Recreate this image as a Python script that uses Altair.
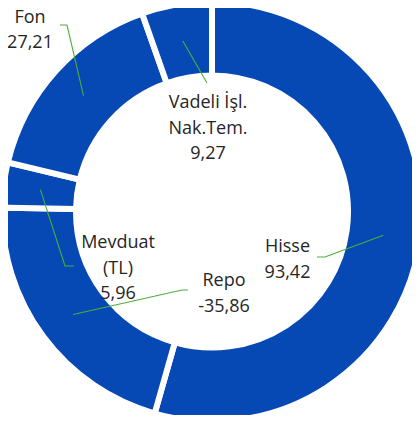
import math
import altair as alt
import pandas as pd

# ---- data ----
categories = ["Hisse", "Repo", "Mevduat (TL)", "Fon", "Vadeli İşl. Nak.Tem."]
values = [93.42, -35.86, 5.96, 27.21, 9.27]
label_lines = [["Hisse"], ["Repo"], ["Mevduat", "(TL)"], ["Fon"], ["Vadeli İşl.", "Nak.Tem."]]

# ---- layout / style (not data) ----
W, H = 404, 407
CX, CY = 204, 203.5          # donut centre in chart coordinates
R_OUT, R_IN = 210, 136       # drawn radii (white 6px stroke trims 3px each side)
R_MID = 173
BLUE = "#0648B4"
GREEN = "#4EAE3A"
TEXT = "#262626"
# label anchor (centre x, first baseline y) and leader-line elbow points, page px
label_pos = [(287.5, 252), (224, 286), (118, 248), (30, 22.5), (208, 108)]
elbows = [[(325, 257), (317, 257)], [(182, 290), (188, 290)],
          [(65, 266), (74, 266)], [(67, 25), (60, 25)], [(207, 83)]]

def fmt(v):
    return f"{v:.2f}".replace(".", ",")

df = pd.DataFrame({
    "cat": categories,
    "val": values,
    "abs": [abs(v) for v in values],
    "idx": list(range(len(values))),
})

total = sum(abs(v) for v in values)
txt_rows = []
line_rows = []
cum = 0.0
for i, (c, v) in enumerate(zip(categories, values)):
    a = abs(v)
    mid = (cum + a / 2) / total * 2 * math.pi
    cum += a
    sx = CX + R_MID * math.sin(mid)
    sy = CY - R_MID * math.cos(mid)
    lx, ly = label_pos[i]
    txt_rows.append({"cat": c, "label": "\n".join(label_lines[i] + [fmt(v)]),
                     "x": lx - 8, "y": ly - 8})
    pts = [(sx, sy)] + [(ex - 8, ey - 8) for ex, ey in elbows[i]]
    for k, (px, py) in enumerate(pts):
        line_rows.append({"cat": c, "o": k, "x": px, "y": py})

txt_df = pd.DataFrame(txt_rows)
line_df = pd.DataFrame(line_rows)

donut = alt.Chart(df).mark_arc(
    radius=R_OUT, radius2=R_IN, color=BLUE, stroke="white", strokeWidth=6
).encode(
    theta=alt.Theta("abs:Q", stack=True),
    order=alt.Order("idx:Q"),
    x=alt.value(CX),
    y=alt.value(CY),
)

leaders = alt.Chart(line_df).mark_line(color=GREEN, strokeWidth=1.1).encode(
    x=alt.X("x:Q", scale=None),
    y=alt.Y("y:Q", scale=None),
    detail="cat:N",
    order="o:Q",
)

labels = alt.Chart(txt_df).mark_text(
    align="center", baseline="alphabetic", lineBreak="\n", lineHeight=25.5,
    font="Open Sans", fontSize=18, color=TEXT,
).encode(
    x=alt.X("x:Q", scale=None),
    y=alt.Y("y:Q", scale=None),
    text="label:N",
)

chart = alt.layer(donut, leaders, labels).properties(
    width=W, height=H,
    autosize=alt.AutoSizeParams(type="none"),
    padding=0,
).configure_view(stroke=None)

chart.save("out.html", embed_options={"renderer": "svg", "actions": False})
